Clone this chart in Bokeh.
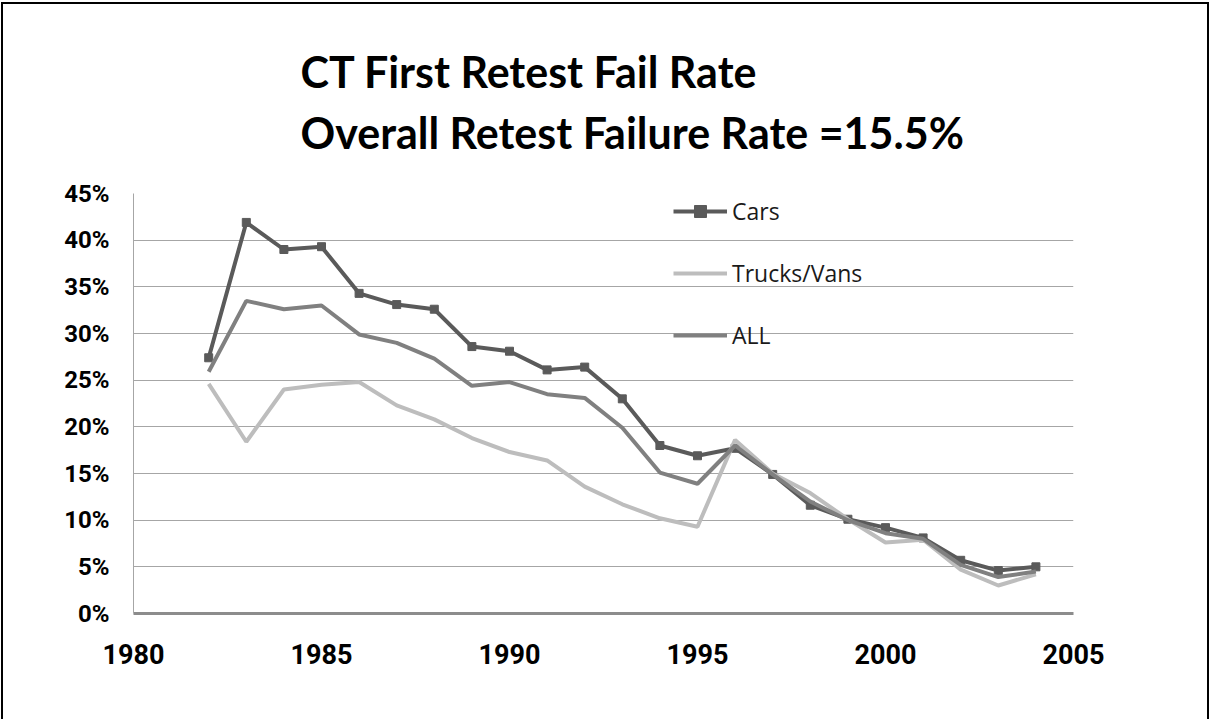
from bokeh.plotting import figure
from bokeh.models import Legend, LegendItem, Title, FixedTicker, PrintfTickFormatter, Range1d
from bokeh.embed import file_html
from bokeh.resources import INLINE

years = list(range(1982, 2005))
cars = [27.4, 41.9, 39.0, 39.3, 34.3, 33.1, 32.6, 28.6, 28.1, 26.1, 26.4, 23.0, 18.0, 16.9,
        17.7, 14.9, 11.6, 10.1, 9.2, 8.1, 5.7, 4.6, 5.0]
trucks = [24.6, 18.4, 24.0, 24.5, 24.8, 22.3, 20.8, 18.8, 17.3, 16.4, 13.6, 11.7, 10.2, 9.3,
          18.6, 15.0, 12.9, 10.1, 7.6, 7.9, 4.7, 3.0, 4.2]
all_ = [25.9, 33.5, 32.6, 33.0, 29.9, 29.0, 27.3, 24.4, 24.8, 23.5, 23.1, 19.9, 15.1, 13.9,
        18.0, 14.9, 12.0, 10.0, 8.6, 8.0, 5.2, 3.9, 4.5]
x_ticks = [1980, 1985, 1990, 1995, 2000, 2005]
y_ticks = [0, 5, 10, 15, 20, 25, 30, 35, 40, 45]
title_text = "CT First Retest Fail Rate\nOverall Retest Failure Rate =15.5%"

p = figure(width=1200, height=713, output_backend="svg", toolbar_location=None,
           x_range=Range1d(1980, 2005), y_range=Range1d(0, 45),
           min_border_left=128, min_border_right=132, min_border_top=187, min_border_bottom=106)
p.styles = {"margin-left": "5px", "margin-top": "6px",
            "outline": "2px solid #000", "outline-offset": "2px"}
p.outline_line_color = None
p.background_fill_color = "white"
p.border_fill_color = "white"

p.xgrid.grid_line_color = None
p.ygrid.grid_line_color = "#a6a6a6"
p.ygrid.grid_line_width = 1
p.ygrid.ticker = FixedTicker(ticks=y_ticks)

p.xaxis.ticker = FixedTicker(ticks=x_ticks)
p.yaxis.ticker = FixedTicker(ticks=y_ticks)
p.yaxis.formatter = PrintfTickFormatter(format="%d%%")
for ax in (p.xaxis, p.yaxis):
    ax.major_tick_line_color = None
    ax.minor_tick_line_color = None
    ax.major_tick_out = 0
    ax.major_tick_in = 0
    ax.minor_tick_out = 0
    ax.major_label_text_font = "Roboto"
    ax.major_label_text_font_style = "bold"
    ax.major_label_text_color = "black"
p.xaxis.major_label_text_font_size = "27px"
p.yaxis.major_label_text_font_size = "24px"
p.xaxis.axis_line_color = "#8c8c8c"
p.xaxis.axis_line_width = 3
p.yaxis.axis_line_color = "#a6a6a6"
p.yaxis.axis_line_width = 1
p.xaxis.major_label_standoff = 30
p.yaxis.major_label_standoff = 24

c_cars = "#5a5a5a"
c_trucks = "#bdbdbd"
c_all = "#808080"

r_cars = p.line(years, cars, line_color=c_cars, line_width=4)
r_cars_m = p.scatter(years, cars, marker="square", size=8, fill_color=c_cars, line_color=c_cars)
r_trucks = p.line(years, trucks, line_color=c_trucks, line_width=4)
r_all = p.line(years, all_, line_color=c_all, line_width=4)

legend = Legend(items=[
    LegendItem(label="Cars", renderers=[r_cars, r_cars_m]),
    LegendItem(label="Trucks/Vans", renderers=[r_trucks]),
    LegendItem(label="ALL", renderers=[r_all]),
], location=(540, 262))
legend.background_fill_alpha = 0
legend.border_line_color = None
legend.padding = 0
legend.margin = 0
legend.spacing = 30
legend.glyph_width = 54
legend.glyph_height = 30
legend.label_height = 30
legend.label_standoff = 5
legend.label_text_font = "Open Sans"
legend.label_text_font_size = "23px"
legend.label_text_color = "#1a1a1a"
p.add_layout(legend)

t = Title(text=title_text, align="left", offset=167, standoff=70,
          text_font="Lato", text_font_style="bold", text_font_size="43px",
          text_color="black", text_line_height=1.2)
p.add_layout(t, "above")

open("out.html", "w").write(file_html(p, INLINE))
